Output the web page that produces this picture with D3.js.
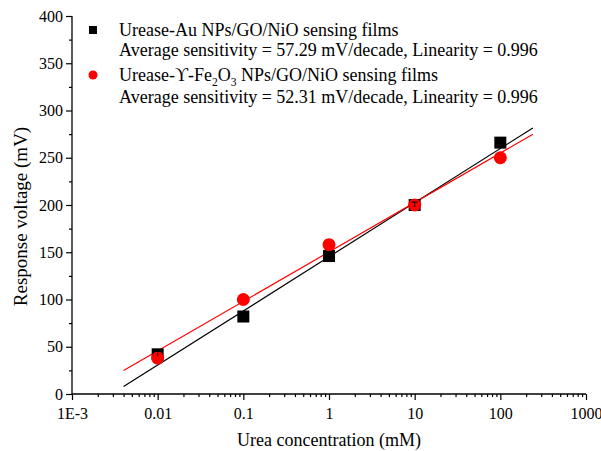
<!DOCTYPE html>
<html><head><meta charset="utf-8">
<script src="https://cdn.jsdelivr.net/npm/d3@7"></script>
<style>body{margin:0;background:#fff}svg{display:block}</style>
</head><body><svg id="c" width="601" height="451"></svg>
<script>
const concentrations = [0.01, 0.1, 1, 10, 100];
const auValues = [42, 82, 146, 200, 266];
const auErrors = [3, 3, 3, 3, 3];
const feValues = [38, 100, 158, 200, 250];
const feErrors = [3, 3, 3, 3, 4];
const fitSlopes = [57.29, 52.31];
const fitIntercepts = [145.2, 150.3];
const fitRange = [0.004, 240];
const xTickValues = [0.001, 0.01, 0.1, 1, 10, 100, 1000];
const xTickLabels = ["1E-3", "0.01", "0.1", "1", "10", "100", "1000"];
const yTickValues = [0, 50, 100, 150, 200, 250, 300, 350, 400];
const legendLines = [
  "Urease-Au NPs/GO/NiO sensing films",
  "Average sensitivity = 57.29 mV/decade, Linearity = 0.996",
  "Urease-\u03D2-Fe2O3 NPs/GO/NiO sensing films",
  "Average sensitivity = 52.31 mV/decade, Linearity = 0.996"
];

const svg = d3.select("#c");
const x = d3.scaleLog().domain([0.001, 1000]).range([72, 586]);
const y = d3.scaleLinear().domain([0, 400]).range([394, 16]);
const SERIF = "'Liberation Serif'";

const minorX = [];
for (let e = -3; e < 3; e++) for (let k = 2; k <= 9; k++) minorX.push(k * Math.pow(10, e));
const minorY = d3.range(25, 400, 50);

const gx = svg.append("g").attr("transform", "translate(0,394)");
gx.call(d3.axisBottom(x).tickValues(xTickValues).tickFormat((d, i) => xTickLabels[i]).tickSize(6).tickPadding(8));
gx.append("g").call(d3.axisBottom(x).tickValues(minorX).tickFormat("").tickSize(3)).select(".domain").remove();
const gy = svg.append("g").attr("transform", "translate(72,0)");
gy.call(d3.axisLeft(y).tickValues(yTickValues).tickSize(6).tickPadding(3));
gy.append("g").call(d3.axisLeft(y).tickValues(minorY).tickFormat("").tickSize(3)).select(".domain").remove();
svg.selectAll("g").attr("font-family", null);
svg.selectAll(".domain").attr("stroke", "#000").attr("stroke-width", 1.3);
svg.selectAll(".tick line").attr("stroke", "#000").attr("stroke-width", 1.2);
svg.selectAll(".tick text").style("font-size", "16px").style("font-family", SERIF).attr("fill", "#000");
gx.selectAll(".domain").attr("d", "M72,0H586");
gy.selectAll(".domain").attr("d", "M0,394V16");

const line = d3.line().x(d => x(d[0])).y(d => y(d[1]));
const fitColors = ["#000", "#ff0000"];
fitSlopes.forEach((s, k) => {
  svg.append("path")
    .attr("d", line(fitRange.map(c => [c, fitIntercepts[k] + s * Math.log10(c)])))
    .attr("stroke", fitColors[k]).attr("stroke-width", 1.2).attr("fill", "none");
});

svg.selectAll(".sq").data(concentrations).enter().append("rect")
  .attr("x", d => x(d) - 6).attr("y", (d, i) => y(auValues[i]) - 6)
  .attr("width", 12).attr("height", 12).attr("fill", "#000");
svg.selectAll(".ci").data(concentrations).enter().append("circle")
  .attr("cx", d => x(d)).attr("cy", (d, i) => y(feValues[i])).attr("r", 6.5).attr("fill", "#ff0000");

function errBars(vals, errs, color) {
  const g = svg.append("g").attr("stroke", color).attr("stroke-width", 1);
  concentrations.forEach((c, i) => {
    const cx = x(c), y1 = y(vals[i] + errs[i]), y0 = y(vals[i]);
    g.append("line").attr("x1", cx).attr("x2", cx).attr("y1", y1).attr("y2", y0 + 2);
    g.append("line").attr("x1", cx - 3).attr("x2", cx + 3).attr("y1", y1).attr("y2", y1);
  });
}
errBars(feValues, feErrors, "#ff0000");
errBars(auValues, auErrors, "#000");

svg.append("rect").attr("x", 89).attr("y", 26).attr("width", 8).attr("height", 8).attr("fill", "#000");
svg.append("circle").attr("cx", 93).attr("cy", 75).attr("r", 4.5).attr("fill", "#ff0000");
const ly = [36, 56, 81, 103];
legendLines.forEach((t, i) => {
  const tx = svg.append("text").attr("x", 119).attr("y", ly[i]).style("font-size", "18px").style("font-family", SERIF);
  if (i === 2) {
    tx.append("tspan").text("Urease-\u03D2-Fe");
    tx.append("tspan").text("2").attr("dy", 5).style("font-size", "11.5px");
    tx.append("tspan").text("O").attr("dy", -5);
    tx.append("tspan").text("3").attr("dy", 5).style("font-size", "11.5px");
    tx.append("tspan").text(" NPs/GO/NiO sensing films").attr("dy", -5);
  } else tx.text(t);
});

svg.append("text").attr("x", 329).attr("y", 446).attr("text-anchor", "middle").style("font-size", "18px").style("font-family", SERIF).text("Urea concentration (mM)");
svg.append("text").attr("transform", "translate(27,216.5) rotate(-90)").attr("text-anchor", "middle").style("font-size", "19px").style("font-family", SERIF).text("Response voltage (mV)");
</script></body></html>
